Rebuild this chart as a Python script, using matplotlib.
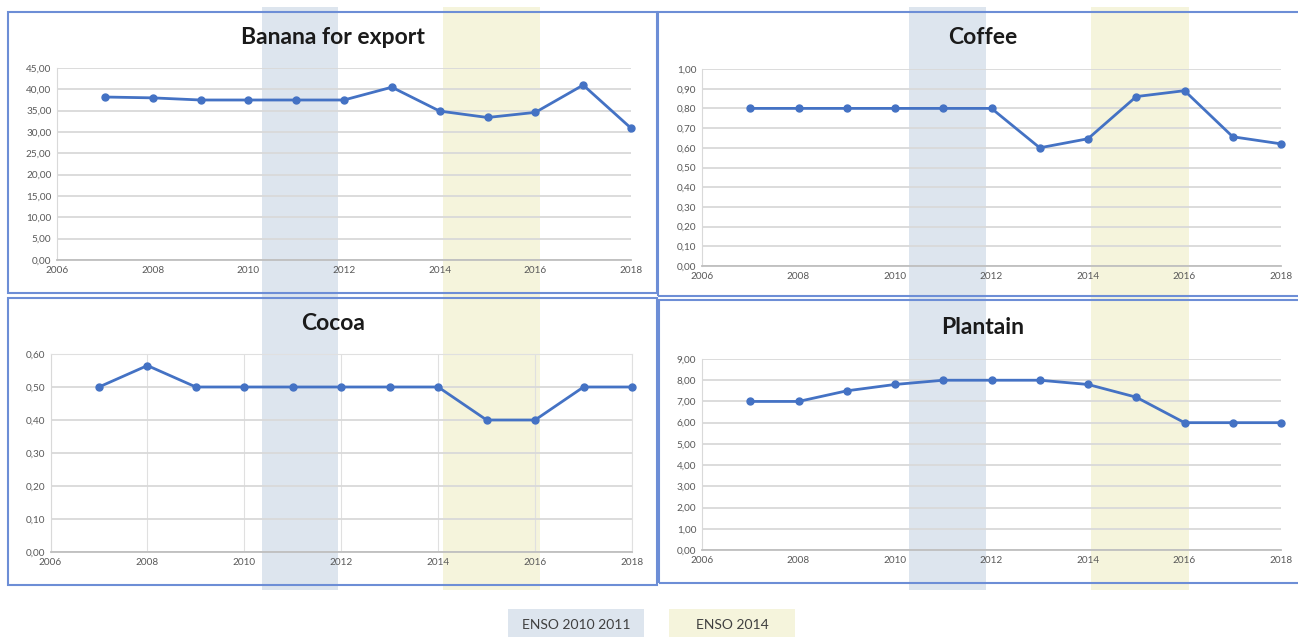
import matplotlib
matplotlib.use("Agg")
import matplotlib.pyplot as plt
from matplotlib.patches import Rectangle
from matplotlib.transforms import blended_transform_factory
from matplotlib.ticker import FuncFormatter

plt.rcParams['font.family'] = ['Lato', 'DejaVu Sans']

years = [2007, 2008, 2009, 2010, 2011, 2012, 2013, 2014, 2015, 2016, 2017, 2018]
banana = [38.2, 38.0, 37.5, 37.5, 37.5, 37.5, 40.5, 34.9, 33.4, 34.6, 41.0, 30.9]
coffee = [0.80, 0.80, 0.80, 0.80, 0.80, 0.80, 0.60, 0.646, 0.86, 0.89, 0.656, 0.62]
cocoa = [0.50, 0.565, 0.50, 0.50, 0.50, 0.50, 0.50, 0.50, 0.40, 0.40, 0.50, 0.50]
plantain = [7.0, 7.0, 7.5, 7.8, 8.0, 8.0, 8.0, 7.8, 7.2, 6.0, 6.0, 6.0]

titles = ["Banana for export", "Coffee", "Cocoa", "Plantain"]
enso_periods = [(2010.28, 2011.88), (2014.07, 2016.1)]
enso_labels = ["ENSO 2010 2011", "ENSO 2014"]
enso_colors = ["#dde5ee", "#f5f4dc"]

W, H = 1298, 637
fig = plt.figure(figsize=(W / 100, H / 100), dpi=100)

def fx(px):
    return px / W

def fy(py):
    return 1 - py / H

line_color = "#4472c4"
border_color = "#6d8ed6"

specs = [
    # title, data, ylim, yticks step, axes px (x0, x1, ytop, ybot), title pos (x, y), vgrid
    (titles[0], banana, 45, 5, (57, 631, 68, 260), (333, 37), False),
    (titles[1], coffee, 1.0, 0.1, (702, 1281, 69, 266), (983, 38), False),
    (titles[2], cocoa, 0.6, 0.1, (50.5, 632, 354, 552), (333, 323), True),
    (titles[3], plantain, 9, 1, (702, 1281, 359, 550), (983, 327), False),
]

axes = []
for title, data, ymax, step, (x0, x1, yt, yb), (tx, ty), vgrid in specs:
    ax = fig.add_axes([fx(x0), fy(yb), fx(x1 - x0), (yb - yt) / H])
    ax.set_facecolor("none")
    ax.set_xlim(2006, 2018)
    ax.set_ylim(0, ymax)
    n = int(round(ymax / step))
    ax.set_yticks([i * step for i in range(n + 1)])
    ax.set_xticks(range(2006, 2019, 2))
    ax.yaxis.set_major_formatter(FuncFormatter(lambda v, p: f"{v:.2f}".replace(".", ",")))
    ax.grid(axis="y", color="#d9d9d9", lw=1.3)
    if vgrid:
        ax.grid(axis="x", color="#e0e0e0", lw=0.8)
    ax.set_axisbelow(True)
    for s in ["top", "right"]:
        ax.spines[s].set_visible(vgrid)
        ax.spines[s].set_color("#e0e0e0")
    ax.spines["left"].set_color("#d9d9d9")
    ax.spines["bottom"].set_color("#bfbfbf")
    ax.spines["bottom"].set_linewidth(1.3)
    ax.tick_params(length=0, labelsize=7.2, colors="#595959", pad=4)
    ax.plot(years, data, color=line_color, lw=2, marker="o", ms=5,
            markerfacecolor=line_color, markeredgecolor=line_color, zorder=3,
            clip_on=False)
    fig.text(fx(tx), fy(ty), title, ha="center", va="center",
             fontsize=16.5, fontweight="bold", color="#1a1a1a")
    axes.append(ax)

# ENSO bands spanning each column
for ax_ref in (axes[0], axes[1]):
    tr = blended_transform_factory(ax_ref.transData, fig.transFigure)
    for (a, b), c in zip(enso_periods, enso_colors):
        fig.patches.append(Rectangle((a, fy(590)), b - a, fy(7) - fy(590),
                                     transform=tr, facecolor=c, edgecolor="none",
                                     zorder=-5))

# panel borders
boxes = [(8, 12, 657, 293), (658, 12, 1300, 296), (8, 298, 657, 585), (659, 300, 1300, 583)]
for x0, y0, x1, y1 in boxes:
    fig.patches.append(Rectangle((fx(x0), fy(y1)), fx(x1 - x0), (y1 - y0) / H,
                                 transform=fig.transFigure, facecolor="none",
                                 edgecolor=border_color, lw=1.5, zorder=-1))

# legend boxes
legend_px = [(508, 644), (669, 795)]
for (x0, x1), c, lab in zip(legend_px, enso_colors, enso_labels):
    fig.patches.append(Rectangle((fx(x0), fy(640)), fx(x1 - x0), (640 - 609) / H,
                                 transform=fig.transFigure, facecolor=c,
                                 edgecolor="none", zorder=-1))
    fig.text(fx((x0 + x1) / 2), fy(625), lab, ha="center", va="center",
             fontsize=10, color="#404040")

fig.savefig("out.png", dpi=100)
